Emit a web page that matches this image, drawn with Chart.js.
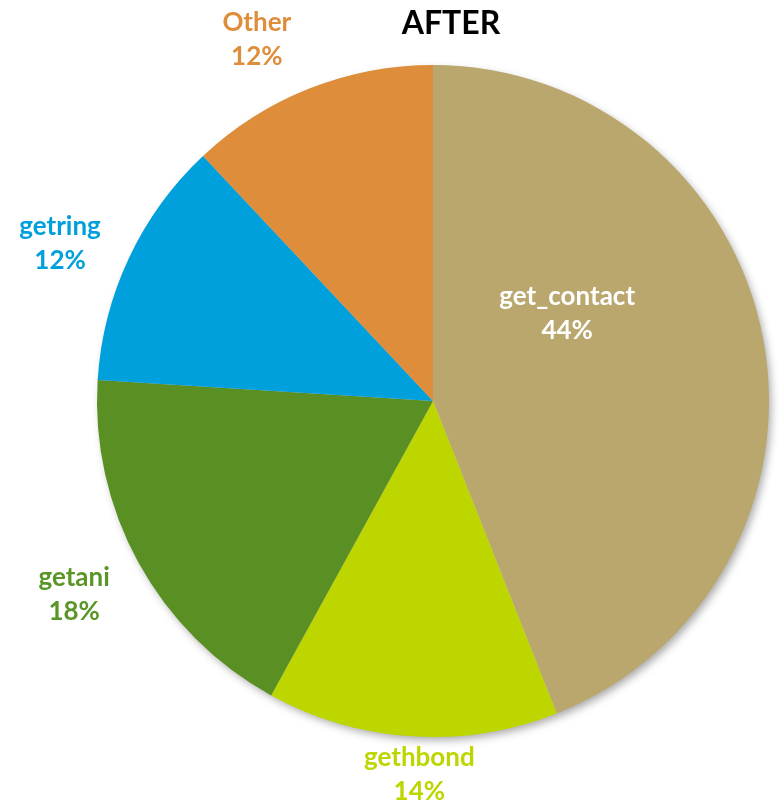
<!DOCTYPE html>
<html>
<head>
<meta charset="utf-8">
<script src="https://cdn.jsdelivr.net/npm/chart.js@4/dist/chart.umd.min.js"></script>
<style>
  html, body { margin: 0; padding: 0; background: #fff; }
  #wrap { width: 779px; height: 808px; }
</style>
</head>
<body>
<div id="wrap"><canvas id="pieAfter"></canvas></div>
<script>
// datos del gráfico
var categorias = ['get_contact', 'gethbond', 'getani', 'getring', 'Other'];
var porcentajes = [44, 14, 18, 12, 12];
var colores = ['#B9A76E', '#BDD600', '#5A8F23', '#00A0DC', '#DE8E3A'];
var coloresTexto = ['#FFFFFF', '#BDD600', '#5A9627', '#00A0DC', '#DE8E3A'];
var titulo = 'AFTER';

// posición de cada etiqueta: [factor del radio, ángulo en grados desde arriba]
var posEtiquetas = [[0.476, 57], [1.112, 182.1], [1.213, 241.7], [1.205, 292.9], [1.196, 334]];

var FUENTE = 'Lato, "Open Sans", sans-serif';

// sombra suave debajo del círculo
var sombraPie = {
  id: 'sombraPie',
  beforeDatasetsDraw: function (chart) {
    var arc = chart.getDatasetMeta(0).data[0];
    if (!arc) return;
    var ctx = chart.ctx;
    ctx.save();
    ctx.shadowColor = 'rgba(0,0,0,0.35)';
    ctx.shadowBlur = 9;
    ctx.shadowOffsetX = 3;
    ctx.shadowOffsetY = 4;
    ctx.fillStyle = '#ccc';
    ctx.beginPath();
    ctx.arc(arc.x, arc.y, arc.outerRadius - 1, 0, Math.PI * 2);
    ctx.fill();
    ctx.restore();
  }
};

// etiquetas con nombre y porcentaje, más el título
var etiquetas = {
  id: 'etiquetas',
  afterDatasetsDraw: function (chart) {
    var ctx = chart.ctx;
    var meta = chart.getDatasetMeta(0);
    ctx.save();
    ctx.textAlign = 'center';
    ctx.textBaseline = 'middle';
    ctx.font = 'bold 26px ' + FUENTE;
    meta.data.forEach(function (arc, i) {
      var p = posEtiquetas[i];
      var ang = (p[1] - 90) * Math.PI / 180;
      var r = arc.outerRadius * p[0];
      var x = arc.x + Math.cos(ang) * r;
      var y = arc.y + Math.sin(ang) * r;
      ctx.fillStyle = coloresTexto[i];
      ctx.fillText(categorias[i], x, y - 17);
      ctx.fillText(porcentajes[i] + '%', x, y + 17);
    });
    ctx.fillStyle = '#000';
    ctx.font = 'bold 32px ' + FUENTE;
    ctx.fillText(titulo, 451, 24);
    ctx.restore();
  }
};

var ctx = document.getElementById('pieAfter').getContext('2d');
var graficoPie = new Chart(ctx, {
  type: 'pie',
  data: {
    labels: categorias,
    datasets: [{
      data: porcentajes,
      backgroundColor: colores,
      borderWidth: 0
    }]
  },
  options: {
    responsive: true,
    maintainAspectRatio: false,
    animation: false,
    layout: { padding: { left: 97, right: 10, top: 65, bottom: 71 } },
    plugins: {
      legend: { display: false },
      tooltip: { enabled: false },
      title: { display: false }
    }
  },
  plugins: [sombraPie, etiquetas]
});
</script>
</body>
</html>
